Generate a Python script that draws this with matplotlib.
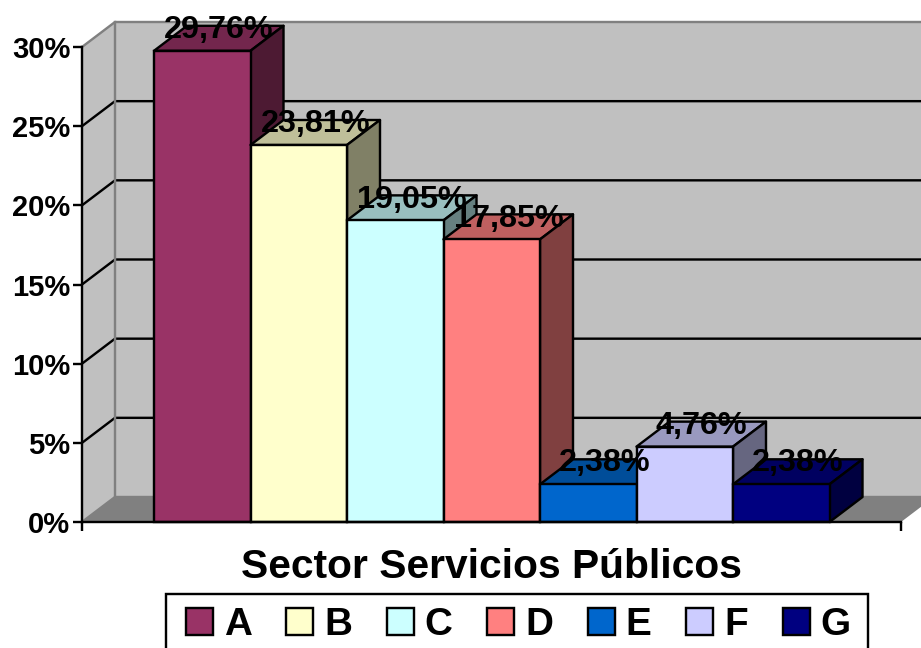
import matplotlib
matplotlib.use("Agg")
import matplotlib.pyplot as plt
from matplotlib.patches import Patch, Rectangle
from matplotlib.ticker import PercentFormatter
from matplotlib.colors import to_rgb

categories = ["A", "B", "C", "D", "E", "F", "G"]
values = [29.76, 23.81, 19.05, 17.85, 2.38, 4.76, 2.38]
colors = ["#993366", "#FFFFCC", "#CCFFFF", "#FF8080", "#0066CC", "#CCCCFF", "#000080"]
title = "Sector Servicios Públicos"
yticks = [0, 5, 10, 15, 20, 25, 30]

W, H = 921, 648
plt.rcParams["font.family"] = ["Liberation Sans", "DejaVu Sans"]
plt.rcParams["font.weight"] = "bold"
fig = plt.figure(figsize=(W / 100, H / 100), dpi=100)
ax = fig.add_axes([82 / W, (H - 522) / H, (901 - 82) / W, 475 / H])

px_x = 96.5       # pixels per bar
px_y = 475 / 30   # pixels per percent
xl = (82 - 154) / px_x - 0.5
xr = (901 - 154) / px_x - 0.5
dx = 33 / px_x
dy = 25 / px_y
ax.set_xlim(xl, xr)
ax.set_ylim(0, 30)
ax.patch.set_visible(False)

lw = 2.4 * 72 / 100
grey = "#808080"
wall = "#C0C0C0"

# walls and floor
ax.fill([xl + dx, xr + 2 * dx, xr + 2 * dx, xl + dx], [dy, dy, 30 + dy, 30 + dy],
        fc=wall, ec="none", clip_on=False, zorder=1)
ax.fill([xl, xl + dx, xl + dx, xl], [0, dy, 30 + dy, 30],
        fc=wall, ec="none", clip_on=False, zorder=1)
ax.fill([xl, xr, xr + dx, xl + dx], [0, 0, dy, dy],
        fc=grey, ec="none", clip_on=False, zorder=1.1)
for t in yticks[1:-1]:
    ax.plot([xl, xl + dx, xr + 2 * dx], [t, t + dy, t + dy], color="black", lw=lw,
            clip_on=False, zorder=1.2, solid_joinstyle="miter")
ax.plot([xl, xl + dx, xr + 2 * dx], [30, 30 + dy, 30 + dy], color=grey, lw=lw,
        clip_on=False, zorder=1.2)
ax.plot([xl, xl + dx, xr + 2 * dx], [0, dy, dy], color=grey, lw=lw,
        clip_on=False, zorder=1.2)
ax.plot([xl + dx, xl + dx], [dy, 30 + dy], color=grey, lw=lw, clip_on=False, zorder=1.2)


def shade(c, f):
    return tuple(v * f for v in to_rgb(c))


# 3-D bars
for i, (v, c) in enumerate(zip(values, colors)):
    z = 2 + i
    a, b = i - 0.5, i + 0.5
    ax.fill([a, b, b + dx, a + dx], [v, v, v + dy, v + dy], fc=shade(c, 0.75),
            ec="black", lw=lw, clip_on=False, zorder=z, joinstyle="round")
    ax.fill([b, b + dx, b + dx, b], [0, dy, v + dy, v], fc=shade(c, 0.5),
            ec="black", lw=lw, clip_on=False, zorder=z, joinstyle="round")
    ax.bar(i, v, width=1, color=c, edgecolor="black", linewidth=lw, clip_on=False, zorder=z + 0.1)

# value labels
for i, v in enumerate(values):
    ax.annotate(f"{v:.2f}%".replace(".", ","), (i + dx / 2, v + dy), xytext=(0.3, -3),
                textcoords="offset points", ha="center", va="center",
                fontsize=23.3, fontweight="bold", color="black", zorder=20,
                annotation_clip=False)

# axes
for s in ("top", "right"):
    ax.spines[s].set_visible(False)
for s in ("left", "bottom"):
    ax.spines[s].set_linewidth(lw)
    ax.spines[s].set_zorder(15)
ax.set_yticks(yticks)
ax.yaxis.set_major_formatter(PercentFormatter(decimals=0))
ax.tick_params(axis="y", length=6.5, width=lw, labelsize=21, pad=2)
ax.set_xticks([xl, xr])
ax.set_xticklabels([])
ax.tick_params(axis="x", length=6.5, width=lw)
ax.set_xlabel(title, fontsize=29.3, fontweight="bold", labelpad=8.5)

# legend
fig.add_artist(Rectangle((166 / W, -20 / H), (868 - 166) / W, (H - 594 + 20) / H,
                         transform=fig.transFigure, fc="white", ec="black", lw=lw))
handles = [Patch(fc=c, ec="black", lw=lw) for c in colors]
leg = fig.legend(handles, categories, ncol=7, loc="center left",
                 bbox_to_anchor=(186 / W, (H - 625) / H), borderaxespad=0,
                 fontsize=27.8, frameon=False, handlelength=0.7, handleheight=0.7,
                 handletextpad=0.28, columnspacing=0.9, borderpad=0)

fig.savefig("out.png", dpi=100)
